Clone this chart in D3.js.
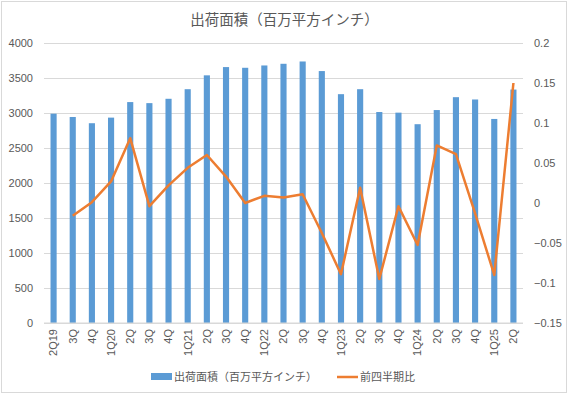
<!DOCTYPE html>
<html>
<head>
<meta charset="utf-8">
<script src="https://cdn.jsdelivr.net/npm/d3@7"></script>
<style>
  body { margin: 0; background: #fff; }
  text { font-family: "Liberation Sans", "Noto Sans CJK JP", sans-serif; fill: #595959; }
</style>
</head>
<body>
<div id="chart"></div>
<script>
// data
var quarters = ["2Q19","3Q","4Q","1Q20","2Q","3Q","4Q","1Q21","2Q","3Q","4Q","1Q22","2Q","3Q","4Q",
                "1Q23","2Q","3Q","4Q","1Q24","2Q","3Q","4Q","1Q25","2Q"];
var area = [2990,2943,2854,2934,3156,3141,3203,3340,3538,3656,3646,3679,3703,3736,3599,
            3269,3340,3014,3005,2840,3042,3226,3193,2915,3335];
var qoq = [null,-0.016,0.001,0.027,0.081,-0.004,0.022,0.044,0.06,0.033,0.0,0.009,0.007,0.011,-0.0375,
           -0.089,0.019,-0.095,-0.004,-0.0525,0.072,0.061,-0.013,-0.09,0.15];
var leftTicks = [0,500,1000,1500,2000,2500,3000,3500,4000];
var rightTicks = [-0.15,-0.1,-0.05,0,0.05,0.1,0.15,0.2];
var titleText = "出荷面積（百万平方インチ）";
var seriesNames = ["出荷面積（百万平方インチ）", "前四半期比"];

// set the dimensions and margins of the graph
var W = 569, H = 396;
var margin = {top: 43, right: 46, bottom: 73, left: 44},
    width = W - margin.left - margin.right,
    height = H - margin.top - margin.bottom;

var svg = d3.select("#chart")
  .append("svg")
    .attr("width", W)
    .attr("height", H);

// outer border
svg.append("rect")
  .attr("x", 1.5).attr("y", 1.5)
  .attr("width", W - 4).attr("height", H - 5)
  .attr("fill", "#fff")
  .attr("stroke", "#d9d9d9");

// title
svg.append("text")
  .attr("x", W / 2)
  .attr("y", 25)
  .attr("text-anchor", "middle")
  .style("font-size", "14.5px")
  .text(titleText);

var g = svg.append("g")
  .attr("transform", "translate(" + margin.left + "," + margin.top + ")");

// scales
var x = d3.scaleBand()
  .domain(d3.range(quarters.length))
  .range([0, width])
  .paddingInner(0.68)
  .paddingOuter(0.34);
var xc = function(i) { return x(i) + x.bandwidth() / 2; };

var y = d3.scaleLinear().domain([0, 4000]).range([height, 0]);
var y2 = d3.scaleLinear().domain([-0.15, 0.2]).range([height, 0]);

// gridlines
g.append("g")
  .call(d3.axisLeft(y).tickValues(leftTicks).tickSize(-width).tickFormat(""))
  .call(function(s) {
    s.select(".domain").remove();
    s.selectAll("line").attr("stroke", "#d9d9d9");
  });

// left axis
g.append("g")
  .call(d3.axisLeft(y).tickValues(leftTicks).tickSize(0).tickPadding(11).tickFormat(d3.format("d")))
  .call(function(s) {
    s.select(".domain").remove();
    s.selectAll("text").style("font-size", "11px").style("fill", "#595959");
  });

// right axis
g.append("g")
  .attr("transform", "translate(" + width + ",0)")
  .call(d3.axisRight(y2).tickValues(rightTicks).tickSize(0).tickPadding(11).tickFormat(d3.format("")))
  .call(function(s) {
    s.select(".domain").remove();
    s.selectAll("text").style("font-size", "11px").style("fill", "#595959");
  });

// bars
g.selectAll("rect.bar")
  .data(area)
  .enter()
  .append("rect")
    .attr("class", "bar")
    .attr("x", function(d, i) { return x(i); })
    .attr("y", function(d) { return y(d); })
    .attr("width", x.bandwidth())
    .attr("height", function(d) { return height - y(d); })
    .attr("fill", "#5b9bd5");

// baseline
g.append("line")
  .attr("x1", 0).attr("x2", width)
  .attr("y1", height).attr("y2", height)
  .attr("stroke", "#d9d9d9");

// x axis labels
var xAxis = g.append("g")
  .attr("transform", "translate(0," + height + ")")
  .call(d3.axisBottom(x).tickSize(0).tickFormat(function(i) { return quarters[i]; }));
xAxis.select(".domain").remove();
xAxis.selectAll("text")
  .style("font-size", "11px")
  .style("fill", "#595959")
  .attr("transform", "rotate(-90)")
  .attr("x", -6)
  .attr("y", 0)
  .attr("dy", "0.35em")
  .style("text-anchor", "end");

// line
var line = d3.line()
  .defined(function(d) { return d != null; })
  .x(function(d, i) { return xc(i); })
  .y(function(d) { return y2(d); });
g.append("path")
  .datum(qoq)
  .attr("fill", "none")
  .attr("stroke", "#ed7d31")
  .attr("stroke-width", 2.5)
  .attr("stroke-linejoin", "round")
  .attr("d", line);

// legend
var legend = svg.append("g").attr("transform", "translate(0,377)");
legend.append("rect")
  .attr("x", 151).attr("y", -4)
  .attr("width", 21).attr("height", 7)
  .attr("fill", "#5b9bd5");
legend.append("text")
  .attr("x", 174).attr("y", 0).attr("dy", "0.35em")
  .style("font-size", "11px")
  .text(seriesNames[0]);
legend.append("line")
  .attr("x1", 337).attr("x2", 358)
  .attr("y1", 0).attr("y2", 0)
  .attr("stroke", "#ed7d31")
  .attr("stroke-width", 2.5);
legend.append("text")
  .attr("x", 360).attr("y", 0).attr("dy", "0.35em")
  .style("font-size", "11px")
  .text(seriesNames[1]);
</script>
</body>
</html>
